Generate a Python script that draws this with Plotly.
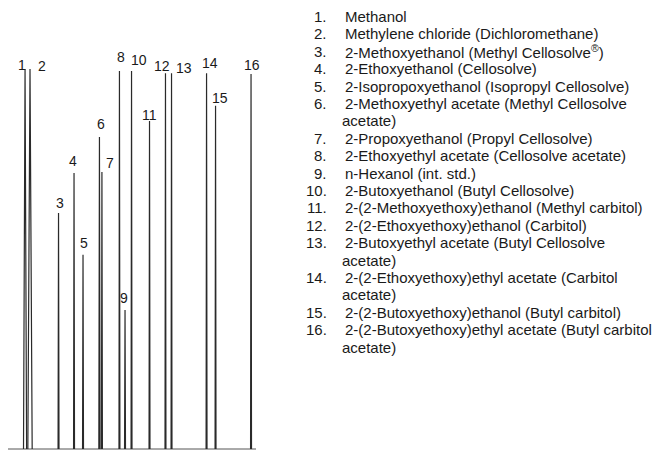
import plotly.graph_objects as go

# ---- data ----
peak_ids = ["1", "2", "3", "4", "5", "6", "7", "8", "9", "10", "11", "12", "13", "14", "15", "16"]
retention_min = [1.10, 1.42, 3.26, 4.26, 4.84, 5.90, 6.06, 7.19, 7.55, 7.97, 9.13, 10.16, 10.55, 12.81, 13.39, 15.68]
response_pct = [100.0, 100.0, 62.1, 72.6, 51.1, 82.1, 72.9, 99.5, 36.6, 99.5, 86.3, 98.9, 98.9, 98.9, 90.3, 98.7]
half_width_min = [0.10, 0.14, 0.03, 0.03, 0.03, 0.04, 0.03, 0.03, 0.03, 0.03, 0.03, 0.03, 0.03, 0.03, 0.03, 0.03]
run_start_min = 0.0
run_end_min = 16.0

compound_lines = [
    ["Methanol"],
    ["Methylene chloride (Dichloromethane)"],
    ["2-Methoxyethanol (Methyl Cellosolve<sup>®</sup>)"],
    ["2-Ethoxyethanol (Cellosolve)"],
    ["2-Isopropoxyethanol (Isopropyl Cellosolve)"],
    ["2-Methoxyethyl acetate (Methyl Cellosolve", "acetate)"],
    ["2-Propoxyethanol (Propyl Cellosolve)"],
    ["2-Ethoxyethyl acetate (Cellosolve acetate)"],
    ["n-Hexanol (int. std.)"],
    ["2-Butoxyethanol (Butyl Cellosolve)"],
    ["2-(2-Methoxyethoxy)ethanol (Methyl carbitol)"],
    ["2-(2-Ethoxyethoxy)ethanol (Carbitol)"],
    ["2-Butoxyethyl acetate (Butyl Cellosolve", "acetate)"],
    ["2-(2-Ethoxyethoxy)ethyl acetate (Carbitol", "acetate)"],
    ["2-(2-Butoxyethoxy)ethanol (Butyl carbitol)"],
    ["2-(2-Butoxyethoxy)ethyl acetate (Butyl carbitol", "acetate)"],
]

# ---- label placement (pixel offsets from each peak apex) ----
label_dx = [-3, 12, 1.5, -1, 1, 1.5, 8, 2, -1, 7, 0, -3, 12.5, 3.5, 4, 1]
label_dy = [4, 3, 10, 12, 12, 13, 9, 14, 12, 11, 6, 7, 5, 10, 8, 9]

W, H = 657, 450
X0_PX, PX_PER_MIN = 8.0, 15.5
BASE_PX, PX_PER_PCT = 449.0, 3.8

x_range = [-X0_PX / PX_PER_MIN, (W - X0_PX) / PX_PER_MIN]
y_range = [-(H - BASE_PX) / PX_PER_PCT, BASE_PX / PX_PER_PCT]

# build the peak trace from the peak table
xs, ys = [], []
for t, h, w in zip(retention_min, response_pct, half_width_min):
    xs += [t - w, t, t + w, None]
    ys += [0, h, 0, None]

fig = go.Figure()
fig.add_trace(go.Scatter(x=[run_start_min, run_end_min], y=[0, 0], mode="lines",
                         line=dict(color="#555555", width=1), hoverinfo="skip"))
fig.add_trace(go.Scatter(x=xs, y=ys, mode="lines",
                         line=dict(color="#2a2a2a", width=1.2), hoverinfo="skip"))

font_lbl = dict(family="Liberation Sans, Arial, sans-serif", size=14, color="#1a1a1a")
for pid, t, h, dx, dy in zip(peak_ids, retention_min, response_pct, label_dx, label_dy):
    fig.add_annotation(x=t, y=h, text=pid, showarrow=False, xanchor="center", yanchor="middle",
                       xshift=dx, yshift=dy, font=font_lbl)

# compound list on the right
font_leg = dict(family="Liberation Sans, Arial, sans-serif", size=15, color="#1a1a1a")
row_y0, row_step = 16.5, 17.4
num_right_px, text_left_px, cont_left_px = 329.0, 343.0, 340.0
row = 0
for i, lines in enumerate(compound_lines):
    y = 1 - (row_y0 + row * row_step) / H
    fig.add_annotation(xref="paper", yref="paper", x=num_right_px / W, y=y, text=f"{i + 1}.",
                       showarrow=False, xanchor="right", yanchor="middle", font=font_leg)
    fig.add_annotation(xref="paper", yref="paper", x=text_left_px / W, y=y, text=lines[0],
                       showarrow=False, xanchor="left", yanchor="middle", font=font_leg)
    row += 1
    for extra in lines[1:]:
        y = 1 - (row_y0 + row * row_step) / H
        fig.add_annotation(xref="paper", yref="paper", x=cont_left_px / W, y=y, text=extra,
                           showarrow=False, xanchor="left", yanchor="middle", font=font_leg)
        row += 1

fig.update_layout(
    width=W, height=H, autosize=False,
    margin=dict(l=0, r=0, t=0, b=0, pad=0),
    paper_bgcolor="white", plot_bgcolor="white",
    showlegend=False,
    xaxis=dict(range=x_range, visible=False, fixedrange=True),
    yaxis=dict(range=y_range, visible=False, fixedrange=True),
)

fig.write_html("out.html", config={"displayModeBar": False},
               post_script="document.body.style.margin='0';document.body.style.overflow='hidden';")
